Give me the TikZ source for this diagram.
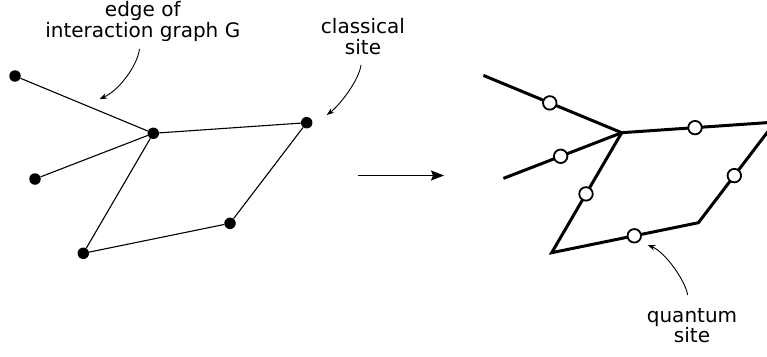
\documentclass[tikz,border=0pt]{standalone}
\usepackage{fontspec}
\setmainfont{DejaVu Sans}
\usetikzlibrary{arrows.meta,calc}
\begin{document}
\begin{tikzpicture}[x=1pt,y=-1pt,
  csite/.style={circle,fill=black,inner sep=0pt,minimum size=11.5pt},
  qsite/.style={circle,draw=black,fill=white,line width=1.8pt,inner sep=0pt,minimum size=13.5pt},
  gedge/.style={line width=1.1pt},
  qedge/.style={line width=3pt,line join=miter},
  note/.style={align=center,font=\fontsize{20}{20.5}\selectfont,inner sep=0pt},
  pointer/.style={line width=0.9pt,-{Stealth[length=7.5pt,width=5.5pt]}},
]
\useasboundingbox (0,0) rectangle (767,356);
\clip (0,0) rectangle (767,356);

% interaction graph with classical sites
\node[csite] (a) at (15,76) {};
\node[csite] (b) at (153.3,133.3) {};
\node[csite] (c) at (306.7,122.7) {};
\node[csite] (d) at (35,179) {};
\node[csite] (e) at (83.3,253.3) {};
\node[csite] (f) at (230,223.3) {};
\draw[gedge] (a) -- (b) (b) -- (c) (b) -- (d) (b) -- (e) (e) -- (f) (f) -- (c);

% transformation arrow
\coordinate (m0) at (358,175.5);
\coordinate (m1) at (444,175.5);
\draw[line width=1.3pt,-{Stealth[length=13pt,width=10pt,inset=2pt]}] (m0) -- (m1);

% same graph, edges carrying quantum sites
\begin{scope}[shift={(468.4,-0.6)}]
  \coordinate (a2) at (15,76);
  \coordinate (b2) at (153.3,133.3);
  \coordinate (c2) at (306.7,122.7);
  \coordinate (d2) at (35,179);
  \coordinate (e2) at (83.3,253.3);
  \coordinate (f2) at (230,223.3);
\end{scope}
\draw[qedge] (a2) -- node[qsite,pos=.48] (q1) {} (b2);
\draw[qedge] (d2) -- node[qsite,pos=.484] (q3) {} (b2);
\draw[qedge] (c2) -- (b2) -- node[qsite,pos=.51] (q4) {} (e2)
  -- node[qsite,pos=.563] (q5) {} (f2) -- node[qsite,pos=.468] (q6) {} (c2);
\node[qsite] (q2) at ($(b2)!.478!(c2)$) {};

% labels (anchored at the baseline of their last line)
\node[note,anchor=base] (t1) at (142.8,37) {edge of\\interaction graph G};
\node[note,anchor=base] (t2) at (363,54) {classical\\site};
\node[note,anchor=base] (t3) at (692,342.5) {quantum\\site};

\coordinate (p1s) at (139.5,49);
\coordinate (p1e) at (99.5,99);
\draw[pointer] (p1s) .. controls (137,67) and (118,91) .. (p1e);
\coordinate (p2s) at (361,65);
\coordinate (p2e) at (326.7,115);
\draw[pointer] (p2s) .. controls (359,80) and (340,105) .. (p2e);
\coordinate (p3s) at (687.7,295);
\coordinate (p3e) at (647.7,245);
\draw[pointer] (p3s) .. controls (685,280) and (665,252) .. (p3e);
\end{tikzpicture}
\end{document}
